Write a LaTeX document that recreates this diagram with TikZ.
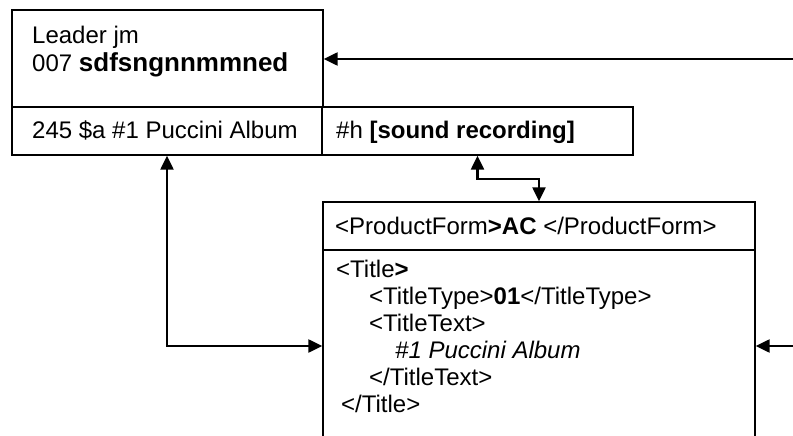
\documentclass[tikz,border=0pt]{standalone}
\usepackage{fontspec}
\setmainfont{Liberation Sans}
\usetikzlibrary{arrows.meta}

\begin{document}
\begin{tikzpicture}[
    x=1pt, y=-1pt,
    field/.style={draw=black, line width=1.3pt, inner sep=0pt},
    txt/.style={font=\fontsize{24}{27}\selectfont, inner sep=0pt, anchor=base west},
    link/.style={line width=2.2pt, {Triangle[length=14pt,width=13pt]}-{Triangle[length=14pt,width=13pt]}},
    feed/.style={line width=2.2pt, -{Triangle[length=14pt,width=13pt]}}
]
    \clip (0,0) rectangle (793,436);

    % --- MARC RECORD ---
    \node[field, minimum width=311pt, minimum height=97pt] (marcLead) at (167.5,58.5) {};
    \node[field, minimum width=310pt, minimum height=48pt] (marc245a) at (167,131) {};
    \node[field, minimum width=311pt, minimum height=48pt] (marc245h) at (477.5,131) {};

    \node[txt] (leadA) at (32,44) {Leader jm};
    \node[txt] (leadB) at (32,71) {007 {\fontsize{26}{27}\selectfont\bfseries sdfsngnnmmned}};
    \node[txt] (subA) at (32,139) {245 \$a \#1 Puccini Album};
    \node[txt] (subH) at (336,139) {\#h \textbf{[sound recording]}};

    % --- ONIX RECORD ---
    \node[field, minimum width=432pt, minimum height=48pt] (onixForm) at (539,226) {};
    \node[field, minimum width=432pt, minimum height=192pt] (onixTitle) at (539,346) {};

    \node[txt] (form) at (335,234) {<ProductForm\textbf{>AC} </ProductForm>};
    \node[txt] (ttlOpen) at (336,277) {<Title\textbf{>}};
    \node[txt] (ttlType) at (369,304) {<TitleType>\textbf{01}</TitleType>};
    \node[txt] (ttlText) at (369,331) {<TitleText>};
    \node[txt] (ttlValue) at (395,358) {\itshape \#1 Puccini Album};
    \node[txt] (ttlTextEnd) at (369,385) {</TitleText>};
    \node[txt] (ttlClose) at (341,412) {</Title>};

    % --- LINKS ---
    \coordinate (inTop) at (793,59);
    \coordinate (inLow) at (793,346);
    \draw[feed] (inTop) -- (inTop -| marcLead.east);
    \draw[feed] (inLow) -- (onixTitle.east);
    \draw[link] (marc245a.south) |- (onixTitle.west);
    \draw[link] (marc245h.south) -- ++(0,23) -| (onixForm.north);
\end{tikzpicture}
\end{document}
